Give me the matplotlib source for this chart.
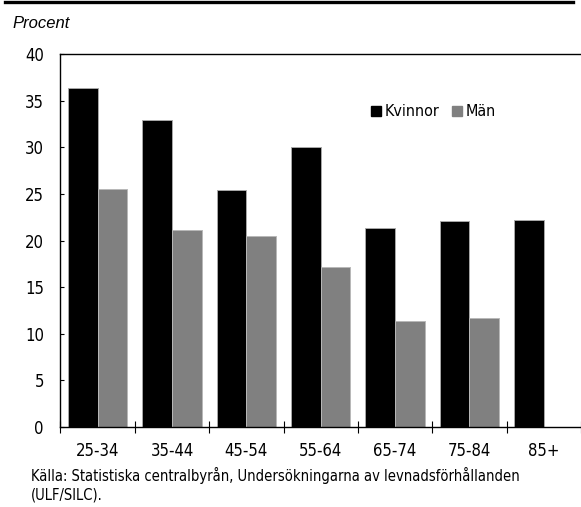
import matplotlib
matplotlib.use("Agg")
import matplotlib.pyplot as plt
from matplotlib.lines import Line2D
from matplotlib.patches import Patch
import numpy as np

# data
grupper = ['25-34', '35-44', '45-54', '55-64', '65-74', '75-84', '85+']
kvinnor = [36.4, 33.0, 25.4, 30.1, 21.4, 22.1, 22.2]
man = [25.5, 21.1, 20.5, 17.2, 11.4, 11.7, np.nan]
yticks = [0, 5, 10, 15, 20, 25, 30, 35, 40]

plt.rcParams['font.family'] = ['DejaVu Sans']
plt.rcParams['font.stretch'] = 'condensed'
plt.rcParams['font.size'] = 11

fig = plt.figure(figsize=(5.81, 5.07), dpi=100)
ax = fig.add_axes([0.1041, 0.1578, 1 - 0.1041, 0.7351])

x = np.arange(len(grupper))
ax.bar(x + 0.1, kvinnor, width=0.4, align='edge', color='black',
       edgecolor='#a8a8a8', linewidth=0.7, label='Kvinnor')
ax.bar(x + 0.5, man, width=0.4, align='edge', color='#808080',
       edgecolor='#b8b8b8', linewidth=0.7, label='Män')

ax.set_xlim(0, len(grupper))
ax.set_ylim(0, 40)
ax.set_yticks(yticks)
ax.set_xticks(np.arange(len(grupper) + 1))
ax.set_xticklabels([])
ax.set_xticks(x + 0.5, minor=True)
ax.set_xticklabels(grupper, minor=True)
ax.tick_params(axis='x', which='major', direction='inout', length=8, width=0.8)
ax.tick_params(axis='x', which='minor', length=0, pad=10.5, labelsize=12)
ax.tick_params(axis='y', direction='in', length=3, width=0.8, pad=12, labelsize=12)
ax.spines['right'].set_visible(False)
for s in ['left', 'top', 'bottom']:
    ax.spines[s].set_linewidth(1.0)

handles = [Patch(facecolor='black', edgecolor='black'),
           Patch(facecolor='#808080', edgecolor='#808080')]
fig.legend(handles, ['Kvinnor', 'Män'], loc='center left',
           bbox_to_anchor=(371 / 581, 1 - 112 / 507), frameon=False, ncol=2,
           handlelength=0.65, handleheight=0.65, handletextpad=0.2,
           columnspacing=0.8, borderpad=0, borderaxespad=0, fontsize=11.5)

fig.text(12 / 581, 1 - 28 / 507, 'Procent', family='Liberation Sans',
         stretch='normal', style='italic', fontsize=12, va='baseline')
fig.text(31 / 581, 1 - 467 / 507,
         'Källa: Statistiska centralbyrån, Undersökningarna av levnadsförhållanden\n(ULF/SILC).',
         fontsize=10.5, va='top', linespacing=1.25)

fig.add_artist(Line2D([5 / 581, 573 / 581], [1 - 1.5 / 507, 1 - 1.5 / 507],
                      color='black', linewidth=2.4))

fig.savefig('out.png', dpi=100)
